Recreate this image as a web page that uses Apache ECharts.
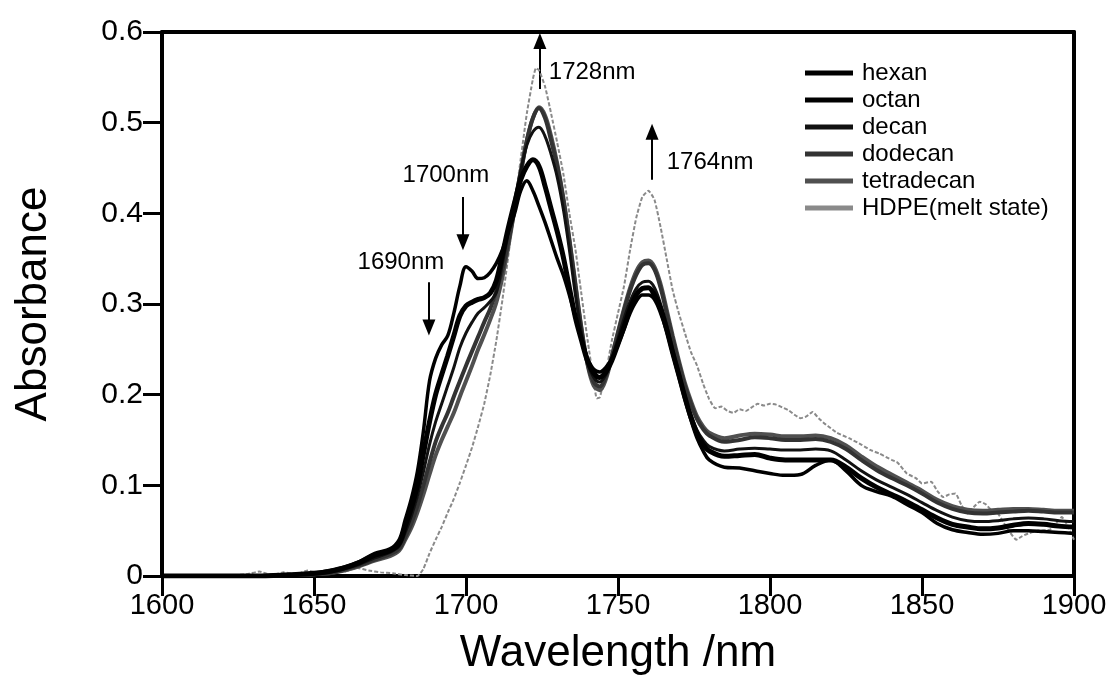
<!DOCTYPE html>
<html>
<head>
<meta charset="utf-8">
<script src="https://cdn.jsdelivr.net/npm/echarts@6/dist/echarts.min.js"></script>
<style>
html,body{margin:0;padding:0;background:#fff;}
#chart{width:1118px;height:689px;}
</style>
</head>
<body>
<div id="chart"></div>
<script>
// ---- data ----
const wavelength = [1600,1610,1620,1630,1640,
  1650,1655,1660,1665,1670,1675,
  1678,
  1680,1682,1684,1686,1688,1690,1692,1694,1696,1698,
  1700,1702,1704,1706,1708,1710,1712,1714,1716,1718,
  1720,1722,1724,1726,1728,1730,1732,1734,1736,1738,
  1740,1742,1744,1746,1748,1750,1752,1754,1756,1758,
  1760,1762,1764,1766,1768,1770,1772,1774,1776,1778,
  1780,
  1785,1790,1795,1800,1805,1810,1815,1820,1825,1830,1835,1840,
  1845,1850,1855,1860,1865,1870,1875,1880,1885,1890,1895,1900];

const hexan = [0,0,0,0,0.001,
  0.003,0.006,0.01,0.016,0.025,0.03,
  0.04,
  0.062,0.085,0.115,0.16,0.215,0.24,0.255,0.265,0.29,0.32,
  0.341,0.336,0.328,0.329,0.335,0.345,0.36,0.38,0.40,0.425,
  0.436,0.425,0.408,0.39,0.37,0.35,0.332,0.31,0.285,0.262,
  0.24,0.228,0.225,0.23,0.24,0.255,0.272,0.29,0.303,0.31,
  0.31,0.305,0.29,0.27,0.245,0.22,0.195,0.172,0.152,0.138,
  0.128,
  0.12,0.119,0.116,0.113,0.111,0.112,0.122,0.128,0.116,0.1,0.093,0.088,
  0.079,0.07,0.058,0.051,0.048,0.046,0.047,0.05,0.05,0.049,0.048,0.047];

const octan = [0,0,0,0,0.001,
  0.003,0.005,0.009,0.015,0.023,0.028,
  0.036,
  0.055,0.075,0.1,0.135,0.17,0.2,0.222,0.243,0.265,0.287,
  0.298,0.302,0.305,0.307,0.312,0.326,0.355,0.385,0.412,0.437,
  0.452,0.459,0.452,0.43,0.405,0.38,0.352,0.318,0.285,0.26,
  0.237,0.224,0.219,0.225,0.238,0.256,0.275,0.295,0.31,0.317,
  0.318,0.31,0.295,0.272,0.246,0.222,0.197,0.175,0.157,0.145,
  0.138,
  0.132,0.133,0.134,0.13,0.128,0.128,0.128,0.128,0.12,0.108,0.098,0.09,
  0.082,0.073,0.064,0.057,0.054,0.052,0.053,0.056,0.058,0.057,0.055,0.054];

const decan = [0,0,0,0,0.001,
  0.002,0.004,0.008,0.013,0.02,0.026,
  0.033,
  0.048,0.066,0.088,0.115,0.145,0.17,0.19,0.21,0.23,0.252,
  0.268,0.28,0.29,0.296,0.303,0.313,0.345,0.38,0.415,0.447,
  0.475,0.49,0.495,0.485,0.465,0.44,0.405,0.36,0.31,0.268,
  0.236,0.219,0.214,0.222,0.24,0.262,0.284,0.303,0.317,0.324,
  0.325,0.318,0.3,0.277,0.25,0.225,0.2,0.178,0.161,0.15,
  0.143,
  0.138,0.14,0.141,0.14,0.139,0.139,0.14,0.138,0.128,0.116,0.106,0.098,
  0.09,0.081,0.072,0.065,0.061,0.06,0.061,0.063,0.064,0.063,0.061,0.06];

const dodecan = [0,0,0,0,0.001,
  0.002,0.003,0.007,0.012,0.018,0.024,
  0.03,
  0.043,0.058,0.077,0.1,0.125,0.148,0.165,0.18,0.198,0.215,
  0.232,0.248,0.264,0.28,0.295,0.315,0.338,0.37,0.405,0.444,
  0.48,0.505,0.516,0.505,0.48,0.452,0.415,0.37,0.32,0.272,
  0.234,0.214,0.209,0.22,0.243,0.268,0.293,0.315,0.332,0.343,
  0.345,0.338,0.318,0.29,0.262,0.235,0.21,0.19,0.173,0.162,
  0.155,
  0.148,0.15,0.153,0.152,0.15,0.15,0.151,0.148,0.14,0.128,0.117,0.108,
  0.1,0.091,0.081,0.074,0.07,0.069,0.07,0.071,0.072,0.071,0.07,0.07];

const tetradecan = [0,0,0,0,0.001,
  0.002,0.003,0.006,0.011,0.017,0.022,
  0.028,
  0.04,0.053,0.07,0.09,0.112,0.133,0.15,0.165,0.18,0.198,
  0.215,0.232,0.25,0.266,0.283,0.302,0.33,0.365,0.405,0.445,
  0.48,0.505,0.517,0.508,0.485,0.455,0.418,0.372,0.322,0.273,
  0.233,0.21,0.205,0.217,0.242,0.269,0.295,0.318,0.336,0.346,
  0.348,0.341,0.322,0.294,0.265,0.238,0.213,0.193,0.176,0.165,
  0.158,
  0.152,0.155,0.157,0.156,0.154,0.154,0.155,0.152,0.144,0.132,0.121,0.112,
  0.103,0.094,0.084,0.077,0.073,0.072,0.073,0.074,0.074,0.073,0.072,0.072];

const hdpeWave = [1600,1620,1628,1632,1636,1640,1644,1648,1652,1656,1660,1664,1668,1672,1676,1680,1684,
  1686,1688,1690,1692,1694,1696,1698,1700,1702,1704,1706,1708,1710,1712,1714,1716,1718,
  1720,1722,1723,1724,1726,1728,1730,1732,1734,1736,1738,1740,1742,1743,1744,1746,1748,
  1750,1752,1754,1756,1758,1760,1762,1764,1766,1768,1770,1772,1774,1776,1778,1780,
  1782,1784,1786,1788,1790,1792,1794,1796,1798,1800,1802,1804,1806,1808,1810,1812,1814,1816,1818,
  1820,1822,1826,1830,1833,1836,1840,1842,1845,1848,1850,1853,1855,1857,1859,1861,1863,1865,
  1867,1869,1871,1873,1875,1877,1879,1881,1883,1885,1888,1892,1894,1896,1898,1900];
const hdpeAbs = [0,0,0.002,0.005,0.001,0.004,0.002,0.006,0.003,0.007,0.005,0.009,0.006,0.004,0.003,0.001,0,
  0.008,0.025,0.04,0.054,0.07,0.085,0.103,0.122,0.142,0.165,0.19,0.222,0.26,0.305,0.355,0.41,0.46,
  0.51,0.548,0.56,0.558,0.54,0.51,0.478,0.444,0.4,0.36,0.31,0.26,0.215,0.196,0.197,0.224,0.26,
  0.29,0.32,0.36,0.395,0.418,0.425,0.415,0.385,0.35,0.315,0.29,0.268,0.247,0.232,0.212,0.195,
  0.185,0.187,0.182,0.18,0.184,0.182,0.186,0.19,0.188,0.19,0.189,0.186,0.183,0.178,0.174,0.176,0.181,0.174,0.168,
  0.163,0.158,0.152,0.145,0.139,0.135,0.128,0.125,0.113,0.108,0.102,0.104,0.094,0.087,0.09,0.091,0.078,0.069,
  0.076,0.082,0.079,0.072,0.069,0.058,0.048,0.04,0.044,0.047,0.05,0.051,0.058,0.065,0.055,0.04];

const seriesNames = ['hexan','octan','decan','dodecan','tetradecan','HDPE(melt state)'];
const xTicks = {min:1600, max:1900, step:50};
const yTicks = {min:0, max:0.6, step:0.1};

// annotation texts and arrows (data coordinates)
const annotations = [
  {text:'1690nm', at:[1678.6,0.346], from:[1687.8,0.324], to:[1687.8,0.274]},
  {text:'1700nm', at:[1693.4,0.442], from:[1699,0.418], to:[1699,0.368]},
  {text:'1728nm', at:[1741.5,0.555], from:[1724.3,0.537], to:[1724.3,0.59]},
  {text:'1764nm', at:[1780.3,0.456], from:[1761.2,0.437], to:[1761.2,0.49]}
];

// ---- chart ----
const FONT = '"Liberation Sans", Arial, sans-serif';
const pair = (xs, ys) => xs.map((x,i)=>[x, ys[i]]);
const styles = [
  {color:'#000000', width:3.5, type:'solid'},
  {color:'#000000', width:5, type:'solid'},
  {color:'#111111', width:3, type:'solid'},
  {color:'#333333', width:4, type:'solid'},
  {color:'#505050', width:4, type:'solid'},
  {color:'#8a8a8a', width:2, type:[4,2]}
];
const seriesData = [
  pair(wavelength, hexan), pair(wavelength, octan), pair(wavelength, decan),
  pair(wavelength, dodecan), pair(wavelength, tetradecan), pair(hdpeWave, hdpeAbs)
];

const series = seriesNames.map((name,i)=>({
  name: name, type:'line', data: seriesData[i], showSymbol:false, symbol:'none',
  smooth: i===5 ? 0.15 : 0.35, animation:false,
  lineStyle: {color: styles[i].color, width: styles[i].width, type: styles[i].type},
  itemStyle: {color: styles[i].color},
  z: 10 - i
}));

series.push({
  name:'annot', type:'line', data:[], animation:false, silent:true,
  markLine: {
    silent:true, animation:false,
    symbol:['none','triangle'], symbolSize:[13,16],
    lineStyle:{color:'#000', width:2, type:'solid'},
    label:{show:false},
    data: annotations.map(a=>[{coord:a.from},{coord:a.to}])
  },
  markPoint: {
    silent:true, animation:false, symbol:'circle', symbolSize:0,
    itemStyle:{color:'transparent'},
    label:{show:true, position:'inside', color:'#000', fontSize:24, fontFamily:FONT,
      formatter: p => p.name},
    data: annotations.map(a=>({name:a.text, coord:a.at}))
  }
});

const chart = echarts.init(document.getElementById('chart'), null, {renderer:'canvas'});
chart.setOption({
  backgroundColor:'#ffffff',
  animation:false,
  grid:{left:162, right:44, top:32, bottom:113, containLabel:false, outerBoundsMode:'none'},
  legend:{
    data: seriesNames, orient:'vertical', left:800, top:56,
    itemWidth:48, itemHeight:5, itemGap:3,
    icon:'rect',
    textStyle:{fontSize:24, fontFamily:FONT, color:'#000', lineHeight:24, padding:[0,0,0,4]},
    selectedMode:false
  },
  xAxis:[{
    type:'value', min:xTicks.min, max:xTicks.max, interval:xTicks.step,
    name:'Wavelength /nm', nameLocation:'middle', nameGap:56,
    nameTextStyle:{fontSize:44, fontFamily:FONT, color:'#000'},
    axisLine:{show:true, onZero:false, lineStyle:{color:'#000', width:4}},
    axisTick:{show:true, inside:false, length:20, lineStyle:{color:'#000', width:3}},
    axisLabel:{fontSize:29, fontFamily:FONT, color:'#000', margin:15, formatter: v => String(v)},
    splitLine:{show:false}
  },{
    type:'value', position:'top', min:xTicks.min, max:xTicks.max,
    axisLine:{show:true, onZero:false, lineStyle:{color:'#000', width:4}},
    axisTick:{show:false}, axisLabel:{show:false}, splitLine:{show:false}
  }],
  yAxis:[{
    type:'value', min:yTicks.min, max:yTicks.max, interval:yTicks.step,
    name:'Absorbance', nameLocation:'middle', nameGap:106, nameRotate:90,
    nameTextStyle:{fontSize:44, fontFamily:FONT, color:'#000'},
    axisLine:{show:true, onZero:false, lineStyle:{color:'#000', width:4}},
    axisTick:{show:true, inside:false, length:19, lineStyle:{color:'#000', width:3}},
    axisLabel:{fontSize:30, fontFamily:FONT, color:'#000', margin:19},
    splitLine:{show:false}
  },{
    type:'value', position:'right', min:yTicks.min, max:yTicks.max,
    axisLine:{show:true, onZero:false, lineStyle:{color:'#000', width:4}},
    axisTick:{show:false}, axisLabel:{show:false}, splitLine:{show:false}
  }],
  series: series
});
</script>
</body>
</html>
